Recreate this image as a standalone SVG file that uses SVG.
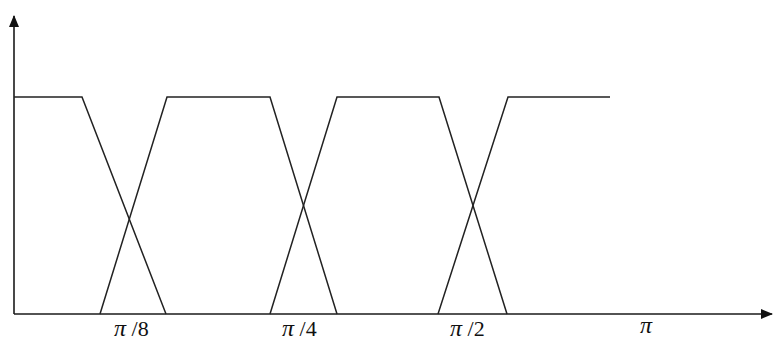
<svg xmlns="http://www.w3.org/2000/svg" width="774" height="343" viewBox="0 0 774 343">
<style>
.ax{stroke:#1a1a1a;stroke-width:1.6;fill:none}
.mf{stroke:#222;stroke-width:1.5;fill:none;stroke-linejoin:miter}
.lb{font-family:"Liberation Serif",serif;font-size:22px;fill:#111}
.pi{font-style:italic;font-size:24px}
</style>
<defs>
<marker id="ah" markerWidth="12" markerHeight="10" refX="11" refY="5" orient="auto" markerUnits="userSpaceOnUse">
<path d="M0,0 L12,5 L0,10 Z" fill="#111"/>
</marker>
</defs>
<g id="axes">
<line class="ax" x1="14" y1="314" x2="14" y2="16" marker-end="url(#ah)"/>
<line class="ax" x1="14" y1="314" x2="772" y2="314" marker-end="url(#ah)"/>
</g>
<g id="connectors">
<polyline id="m1" class="mf" points="14,97 82,97 166,314"/>
<polyline id="m2" class="mf" points="100,314 167,97 270,97 337,314"/>
<polyline id="m3" class="mf" points="270,314 337,97 439,97 507,314"/>
<polyline id="m4" class="mf" points="438,314 508,97 610,97"/>
</g>
<g id="labels">
<text class="lb" x="114" y="336"><tspan class="pi">π</tspan> /8</text>
<text class="lb" x="282" y="336"><tspan class="pi">π</tspan> /4</text>
<text class="lb" x="450" y="336"><tspan class="pi">π</tspan> /2</text>
<text class="lb pi" x="640" y="333">π</text>
</g>
</svg>
